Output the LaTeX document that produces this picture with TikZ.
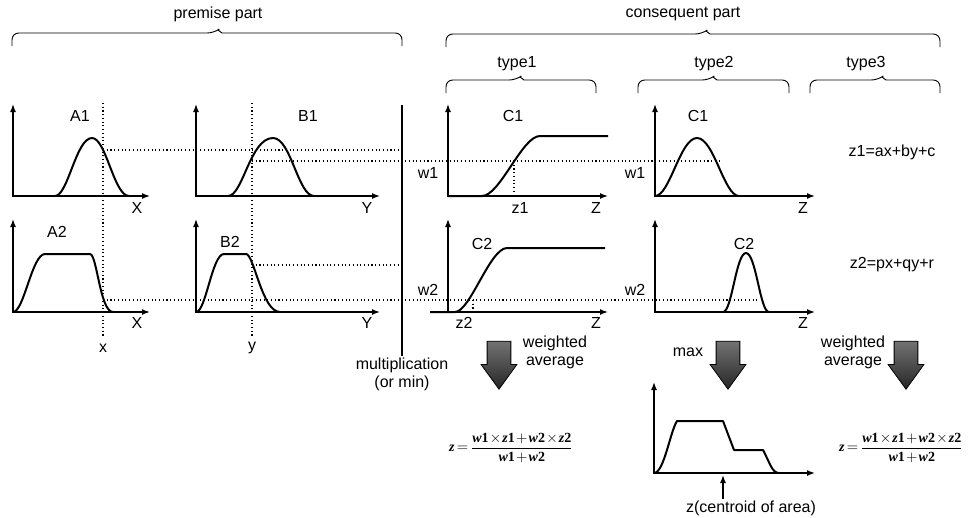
\documentclass[tikz,border=0pt]{standalone}
\usepackage{amsmath}
\usepackage{fontspec}
\setmainfont{Liberation Sans}
\newfontfamily\formfont{Liberation Serif}
\usetikzlibrary{arrows.meta,positioning,shapes.arrows}
\tikzset{
	plotaxis/.style={line width=1.1pt, {Latex[length=6pt,width=4.5pt]}-{Latex[length=6pt,width=4.5pt]}},
	mf/.style={line width=1.5pt, line join=round},
	guide/.style={dotted, line width=0.8pt},
	bracket/.style={line width=0.7pt},
	lbl/.style={font=\fontsize{12}{13.5}\selectfont, inner sep=1pt},
	formula/.style={font=\formfont\fontsize{10.5}{12.5}\selectfont, inner sep=1pt},
	bigarrow/.style={single arrow, draw=black, line width=0.6pt, shape border rotate=270,
			minimum height=36pt, inner sep=8.6pt, single arrow head extend=4.5pt,
			single arrow tip angle=72, top color=black!55, bottom color=black!85},
}
\newcommand{\groupbrace}[4]{\draw[bracket] (#1,#4+13) [rounded corners=5] |- (#3-4,#4) [sharp corners] -- (#3,#4-3) -- (#3+4,#4) [rounded corners=5] -| (#2,#4+13);}
\newcommand{\fv}[2]{\textbf{\textit{#1}#2}}
\newcommand{\wavgformula}{$\medmuskip=1.5mu\thickmuskip=3mu
	\fv{z}{}=\dfrac{\fv{w}{1}\times\fv{z}{1}+\fv{w}{2}\times\fv{z}{2}}{\fv{w}{1}+\fv{w}{2}}$}

\begin{document}
\begin{tikzpicture}[x=0.75pt, y=-0.75pt]
	\useasboundingbox (0,0) rectangle (979,518);

	\groupbrace{12}{402}{218}{33}
	\groupbrace{446}{940}{706}{34}
	\groupbrace{446}{596}{520}{80}
	\groupbrace{638}{789}{713}{80}
	\groupbrace{810}{940}{882}{80}
	\node[lbl] (premise) at (218,14) {premise part};
	\node[lbl] (conseq) at (683,14) {consequent part};
	\node[lbl] (type1) at (517,64) {type1};
	\node[lbl] (type2) at (714,64) {type2};
	\node[lbl] (type3) at (866,64) {type3};

	\draw[guide] (103,103) -- (103,338);
	\draw[guide] (252,103) -- (252,338);
	\draw[guide] (103,150) -- (402,150);
	\draw[guide] (252,161) -- (722,161);
	\draw[guide] (252,265) -- (402,265);
	\draw[guide] (103,300) -- (758,300);
	\draw[guide] (514,161) -- (514,196);
	\draw[guide] (473,300) -- (473,312);

	\foreach \ox/\oy/\ex/\ty in {13/196/150/104, 196/196/380/104, 13/312/150/219, 196/312/380/219,
			448/196/608/104, 448/312/608/219, 655/196/815/104, 655/312/815/219, 654/473/815/382}
		\draw[plotaxis] (\ox,\ty) -- (\ox,\oy) -- (\ex,\oy);

	\draw[mf] (55,196) .. controls (68,196) and (76,138) .. (92,138) .. controls (106,138) and (114,196) .. (129,196);
	\draw[mf] (228,196) .. controls (243,196) and (250,138) .. (273,138) .. controls (291,138) and (298,196) .. (314,196);
	\draw[mf] (13,312) .. controls (24,312) and (32,254) .. (45,254) -- (90,254) .. controls (97,254) and (100,312) .. (113,312);
	\draw[mf] (196,312) .. controls (206,312) and (212,254) .. (224,254) -- (246,254) .. controls (254,254) and (262,312) .. (280,312);
	\draw[mf] (448,196) -- (482,196) .. controls (500,196) and (522,136) .. (540,136) -- (608,136);
	\draw[mf] (430,312) -- (455,312) .. controls (470,312) and (490,248) .. (507,248) -- (605,248);
	\draw[mf] (655,196) .. controls (670,196) and (680,138) .. (697,138) .. controls (714,138) and (724,196) .. (739,196);
	\draw[mf] (723,312) .. controls (732,312) and (736,253) .. (746,253) .. controls (756,253) and (760,312) .. (769,312);
	\draw[mf] (654,473) .. controls (664,473) and (670,432) .. (677,421) -- (723,421) -- (734,450) -- (763,450) .. controls (770,463) and (772,473) .. (779,473);

	\node[lbl] (A1) at (80,116) {A1};
	\node[lbl] (B1) at (308,116) {B1};
	\node[lbl] (A2) at (57,232) {A2};
	\node[lbl] (B2) at (230,242) {B2};
	\node[lbl] (X1) at (137,208) {X};
	\node[lbl] (Y1) at (367,208) {Y};
	\node[lbl] (X2) at (137,323) {X};
	\node[lbl] (Y2) at (367,323) {Y};
	\node[lbl] (xin) at (103,348) {x};
	\node[lbl] (yin) at (252,348) {y};

	\node[lbl] (C1a) at (513,116) {C1};
	\node[lbl] (C2a) at (482,244) {C2};
	\node[lbl] (w1a) at (428,173) {w1};
	\node[lbl] (w2a) at (428,290) {w2};
	\node[lbl] (z1) at (520,208) {z1};
	\node[lbl] (z2) at (464,323) {z2};
	\node[lbl] (Z1a) at (596,208) {Z};
	\node[lbl] (Z2a) at (596,323) {Z};

	\node[lbl] (C1b) at (698,116) {C1};
	\node[lbl] (C2b) at (744,244) {C2};
	\node[lbl] (w1b) at (635,173) {w1};
	\node[lbl] (w2b) at (635,290) {w2};
	\node[lbl] (Z1b) at (803,208) {Z};
	\node[lbl] (Z2b) at (803,323) {Z};

	\node[lbl] (rule1) at (892,152) {z1=ax+by+c};
	\node[lbl] (rule2) at (892,265) {z2=px+qy+r};

	\coordinate (multtop) at (402,105);
	\node[lbl, align=center, anchor=north] (mult) at (402,356) {multiplication\\(or min)};
	\draw[line width=1.1pt] (multtop) -- (mult.north);

	\node[bigarrow] (arr1) at (499,357) {};
	\node[bigarrow] (arr2) at (728,357) {};
	\node[bigarrow] (arr3) at (906,357) {};
	\node[lbl, align=center] (wavg1) at (555,352) {weighted\\average};
	\node[lbl] (max) at (688,352) {max};
	\node[lbl, align=center] (wavg3) at (853,352) {weighted\\average};

	\node[formula] (f1) at (511,448) {\wavgformula};
	\node[formula] (f3) at (901,448) {\wavgformula};

	\coordinate (zpt) at (723,475);
	\node[lbl] (zc) at (751,508) {z(centroid of area)};
	\draw[line width=1.1pt, -{Latex[length=6pt,width=4.5pt]}] (zc.north -| zpt) -- (zpt);
\end{tikzpicture}
\end{document}
